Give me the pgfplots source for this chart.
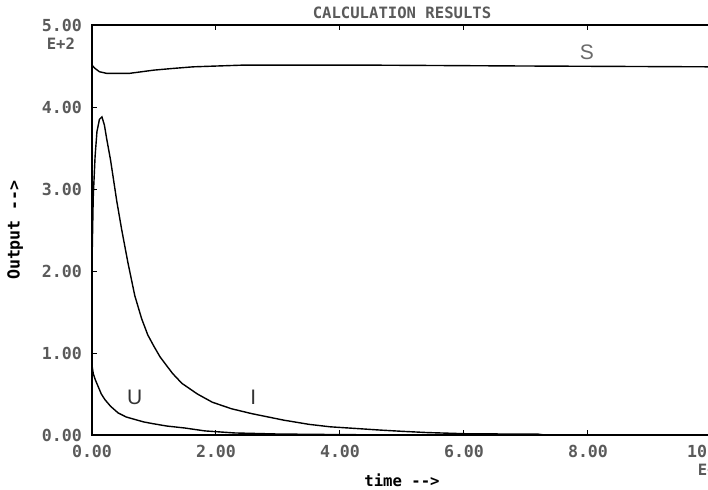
\documentclass[border=0pt]{standalone}
\usepackage{fontspec}
\usepackage{pgfplots}
\pgfplotsset{compat=1.18}
\newfontfamily\plotfont{DejaVu Sans Mono}
\newfontfamily\lblfont{Liberation Sans}
\definecolor{txtgray}{HTML}{5A5A5A}
\definecolor{lblgray}{HTML}{6A6A6A}

\begin{document}
\begin{tikzpicture}
% page = 708x489 px at 0.5pt per px, axis origin at px (92,435)
\useasboundingbox (-46pt,-27pt) rectangle (308pt,217.5pt);
\clip (-46pt,-27pt) rectangle (308pt,217.5pt);
\begin{axis}[
  scale only axis,
  width=310pt, height=205pt,
  xmin=0, xmax=10, ymin=0, ymax=5,
  axis line style={line width=0.7pt},
  xtick={0,2,4,6,8,10},
  xticklabels={0.00,2.00,4.00,6.00,8.00,10.00},
  ytick={0,1,2,3,4,5},
  yticklabels={0.00,1.00,2.00,3.00,4.00,5.00},
  xtick pos=both, ytick pos=left,
  major tick length=2.5pt,
  tick style={black, line width=0.5pt},
  tick label style={font=\plotfont\bfseries\fontsize{8.3}{9}\selectfont, text=txtgray},
  xticklabel style={yshift=-1.5pt},
  yticklabel style={xshift=-1.5pt},
  title={CALCULATION RESULTS},
  title style={at={(axis description cs:0.5,1)}, anchor=center,
    font=\plotfont\bfseries\fontsize{7.8}{9}\selectfont, text=txtgray},
  xlabel={time -->},
  xlabel style={at={(axis description cs:0.5,-0.11)}, anchor=center,
    font=\plotfont\bfseries\fontsize{7.8}{9}\selectfont, text=black},
  ylabel={Output -->},
  ylabel style={at={(axis description cs:-0.124,0.5)}, anchor=center,
    font=\plotfont\bfseries\fontsize{8.3}{9}\selectfont, text=black},
  clip=false,
]
% S
\addplot[black, line width=0.7pt] coordinates {
  (0,4.51) (0.05,4.47) (0.12,4.43) (0.24,4.41) (0.6,4.41) (0.8,4.43)
  (1.0,4.45) (1.3,4.47) (1.63,4.49) (2.4,4.51) (4.65,4.51) (7,4.50) (10,4.49)
};
% I
\addplot[black, line width=0.7pt] coordinates {
  (0,2.10) (0.02,2.90) (0.05,3.40) (0.08,3.70) (0.12,3.85) (0.16,3.88)
  (0.2,3.78) (0.24,3.60) (0.3,3.35) (0.34,3.15) (0.4,2.85) (0.48,2.50)
  (0.58,2.10) (0.69,1.70) (0.8,1.42) (0.9,1.22) (1.0,1.08) (1.1,0.95)
  (1.3,0.75) (1.45,0.63) (1.7,0.50) (1.94,0.40) (2.25,0.32) (2.58,0.26)
  (3.1,0.18) (3.5,0.13) (3.84,0.10) (4.25,0.08) (4.65,0.06) (5.0,0.045)
  (5.4,0.03) (6.05,0.015) (7.2,0.01) (7.3,0.0) (10,0.0)
};
% U
\addplot[black, line width=0.7pt] coordinates {
  (0,0.85) (0.02,0.75) (0.05,0.68) (0.1,0.59) (0.15,0.50) (0.21,0.43)
  (0.3,0.35) (0.42,0.27) (0.55,0.22) (0.69,0.19) (0.83,0.16) (0.97,0.14)
  (1.2,0.11) (1.5,0.085) (1.82,0.05) (2.3,0.025) (3.0,0.012) (4.0,0.005)
  (5.0,0) (10,0)
};
\node[font=\lblfont\fontsize{10.5}{12}\selectfont, text=lblgray] at (axis cs:7.98,4.67) {S};
\node[font=\lblfont\fontsize{10.5}{12}\selectfont, text=black!80] at (axis cs:0.69,0.46) {U};
\node[font=\lblfont\fontsize{10.5}{12}\selectfont, text=black!80] at (axis cs:2.6,0.46) {I};
\node[font=\plotfont\bfseries\fontsize{7.8}{9}\selectfont, text=txtgray, anchor=north east]
  at ([xshift=-5pt]axis description cs:0,0.985) {E+2};
\node[font=\plotfont\bfseries\fontsize{7.8}{9}\selectfont, text=txtgray, anchor=north]
  at ([yshift=-11pt]axis description cs:1,0) {E+0};
\end{axis}
\end{tikzpicture}
\end{document}
